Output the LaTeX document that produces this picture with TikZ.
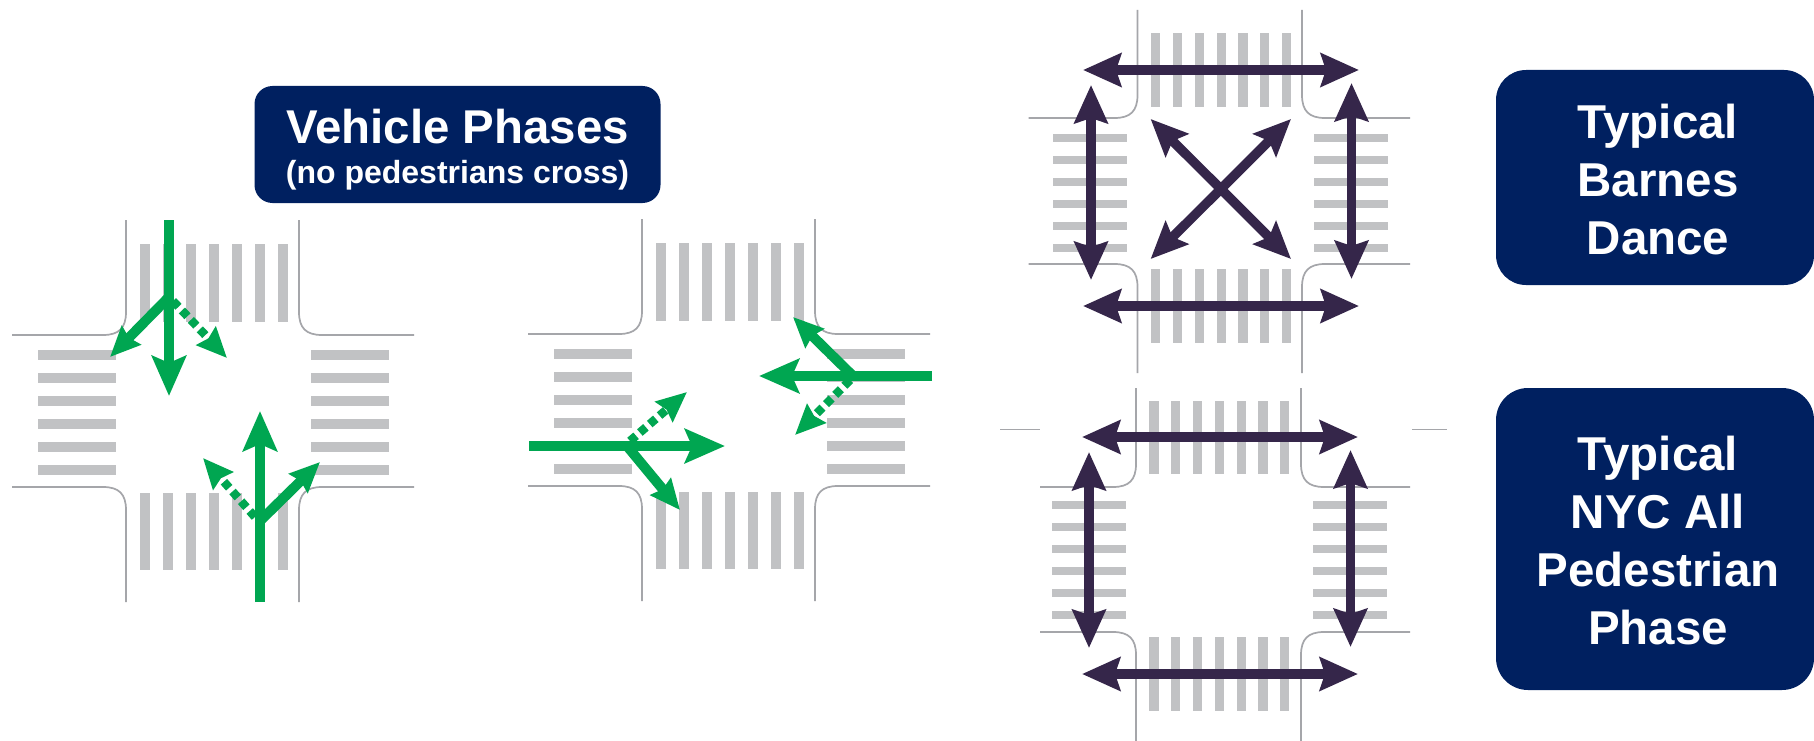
\documentclass[tikz,border=0pt]{standalone}
\usepackage{fontspec}
\setmainfont{Liberation Sans}
\usetikzlibrary{arrows.meta}
\definecolor{navy}{HTML}{002060}
\definecolor{road}{HTML}{A5A6AA}
\definecolor{bar}{HTML}{C1C2C4}
\definecolor{grn}{HTML}{00A651}
\definecolor{purp}{HTML}{35264A}
\tikzset{
  x=1pt,y=-1pt,
  roadline/.style={draw=road,line width=1.7pt},
  zebra/.style={fill=bar,draw=none},
  gmain/.style={draw=grn,line width=9.3pt,-{Stealth[length=40pt,width=34pt,inset=7pt]}},
  gturn/.style={draw=grn,line width=10pt,-{Stealth[length=30pt,width=26pt,inset=3pt]}},
  gdot/.style={draw=grn,line width=8.5pt,dash pattern=on 8pt off 5pt,-{Stealth[length=30pt,width=26pt,inset=3pt]}},
  pside/.style={draw=purp,line width=9.5pt,{Stealth[length=38pt,width=33pt,inset=5pt]}-{Stealth[length=38pt,width=33pt,inset=5pt]}},
  pdiag/.style={draw=purp,line width=9.5pt,{Stealth[length=37pt,width=32pt,inset=6pt]}-{Stealth[length=37pt,width=32pt,inset=6pt]}},
  labelbox/.style={fill=navy,draw=none,rounded corners=#1,inner sep=0pt},
  labeltext/.style={text=white,font=\fontsize{47.5}{57.7}\selectfont\bfseries,align=center,inner sep=0pt},
}
\newcommand{\crosswalks}[9]{%
  \foreach \i in {0,...,6}{
    \fill[zebra] ({#1+\i*#2-4.6},#3) rectangle ({#1+\i*#2+4.6},#4);
    \fill[zebra] ({#1+\i*#2-4.6},#5) rectangle ({#1+\i*#2+4.6},#6);
  }
  \foreach \j in {0,...,5}{
    \fill[zebra] (#7,{#9+\j*\zstep-\zhalf}) rectangle ({#7+\zlen},{#9+\j*\zstep+\zhalf});
    \fill[zebra] ({#8},{#9+\j*\zstep-\zhalf}) rectangle ({#8+\zlen},{#9+\j*\zstep+\zhalf});
  }}
% one kerb: corner at (#1,#2), vertical end y #3, horizontal end x #4, signs #5 (x) #6 (y)
\newcommand{\kerb}[6]{%
  \draw[roadline] (#1,#3) -- ({#1},{#2+#6*23}) .. controls ({#1},{#2+#6*7}) and ({#1+#5*7},{#2}) .. ({#1+#5*23},{#2}) -- (#4,#2);}
% xl xr yt yb ytop ybot xleft xright
\newcommand{\roads}[8]{%
  \kerb{#1}{#3}{#5}{#7}{-1}{-1}
  \kerb{#2}{#3}{#5}{#8}{1}{-1}
  \kerb{#1}{#4}{#6}{#7}{-1}{1}
  \kerb{#2}{#4}{#6}{#8}{1}{1}}
\begin{document}
\begin{tikzpicture}
\useasboundingbox (0,0) rectangle (1814,741);
\fill[white] (0,0) rectangle (1814,741);

% ---------- vehicle phases ----------
\def\zstep{23}\def\zhalf{4.6}\def\zlen{77.5}
\crosswalks{145}{23}{244}{322}{493}{570}{38}{311}{355}
\roads{126}{299}{335}{487}{220}{602}{12}{414}
\crosswalks{661}{23}{243}{321}{492}{569}{554}{827}{354}
\roads{642}{815}{334}{486}{219}{601}{528}{930}

\coordinate (a1) at (169,220);  \coordinate (a1t) at (169,396);
\coordinate (a1j) at (169,297); \coordinate (a1l) at (110,357);
\coordinate (a1d) at (173,301); \coordinate (a1r) at (227,358);
\draw[gturn] (a1j) -- (a1l);
\draw[gdot] (a1d) -- (a1r);
\draw[gmain] (a1) -- (a1t);

\coordinate (b1) at (260,602);  \coordinate (b1t) at (260,411);
\coordinate (b1j) at (260,521); \coordinate (b1r) at (320,462);
\coordinate (b1d) at (255,517); \coordinate (b1l) at (203,458);
\draw[gturn] (b1j) -- (b1r);
\draw[gdot] (b1d) -- (b1l);
\draw[gmain] (b1) -- (b1t);

\coordinate (c1) at (529,446);  \coordinate (c1t) at (725,446);
\coordinate (c1j) at (627,446); \coordinate (c1r) at (680,510);
\coordinate (c1d) at (630,441); \coordinate (c1l) at (687,392);
\draw[gturn] (c1j) -- (c1r);
\draw[gdot] (c1d) -- (c1l);
\draw[gmain] (c1) -- (c1t);

\coordinate (d1) at (932,376);  \coordinate (d1t) at (759,376);
\coordinate (d1j) at (853,376); \coordinate (d1r) at (793,317);
\coordinate (d1d) at (850,380); \coordinate (d1l) at (795,435);
\draw[gturn] (d1j) -- (d1r);
\draw[gdot] (d1d) -- (d1l);
\draw[gmain] (d1) -- (d1t);

\node[labelbox=18pt,minimum width=406pt,minimum height=117pt] (vbox) at (457.5,144.5) {};
\node[text=white,align=center,inner sep=0pt,font=\fontsize{32}{40}\selectfont\bfseries] (vtext) at (457.5,149.5)
  {\fontsize{47.4}{40}\selectfont Vehicle Phases\\\fontsize{32}{40}\selectfont (no pedestrians cross)};

% ---------- typical Barnes dance ----------
\def\zstep{22}\def\zhalf{4.3}\def\zlen{74}
\crosswalks{1155.8}{21.8}{33}{107}{269}{343}{1053}{1313.6}{138}
\roads{1137.5}{1302}{118}{264}{10}{373}{1028.5}{1410}

\coordinate (t1) at (1083,70);   \coordinate (t2) at (1359,70);
\coordinate (u1) at (1083,306);  \coordinate (u2) at (1359,306);
\coordinate (v1) at (1091,85);   \coordinate (v2) at (1091,280);
\coordinate (w1) at (1351.5,83); \coordinate (w2) at (1351.5,279);
\coordinate (x1) at (1150.6,119);\coordinate (x2) at (1291,259);
\coordinate (y1) at (1291,119);  \coordinate (y2) at (1150.6,259);
\draw[pside] (t1) -- (t2);
\draw[pside] (u1) -- (u2);
\draw[pside] (v1) -- (v2);
\draw[pside] (w1) -- (w2);
\draw[pdiag] (x1) -- (x2);
\draw[pdiag] (y1) -- (y2);

\node[labelbox=30pt,minimum width=318pt,minimum height=215pt] (bbox) at (1655,177.5) {};
\node[labeltext] (btext) at (1658,179.5) {Typical\\Barnes\\Dance};

% ---------- typical NYC all pedestrian phase ----------
\crosswalks{1154}{21.8}{401}{474}{637}{711}{1052}{1312.6}{505}
\roads{1136}{1301}{487}{632}{388}{741}{1040}{1410}
\draw[draw=road,line width=1pt] (1000,429) -- (1040,429);
\draw[draw=road,line width=1pt] (1412,429) -- (1446.5,429);

\coordinate (n1) at (1082,437);  \coordinate (n2) at (1358,437);
\coordinate (o1) at (1082,674);  \coordinate (o2) at (1358,674);
\coordinate (p1) at (1089,452);  \coordinate (p2) at (1089,648);
\coordinate (q1) at (1350.5,450);\coordinate (q2) at (1350.5,647);
\draw[pside] (n1) -- (n2);
\draw[pside] (o1) -- (o2);
\draw[pside] (p1) -- (p2);
\draw[pside] (q1) -- (q2);

\node[labelbox=32pt,minimum width=318pt,minimum height=302pt] (nbox) at (1655,539) {};
\node[labeltext] (ntext) at (1658,540.5) {Typical\\NYC All\\Pedestrian\\Phase};
\end{tikzpicture}
\end{document}
